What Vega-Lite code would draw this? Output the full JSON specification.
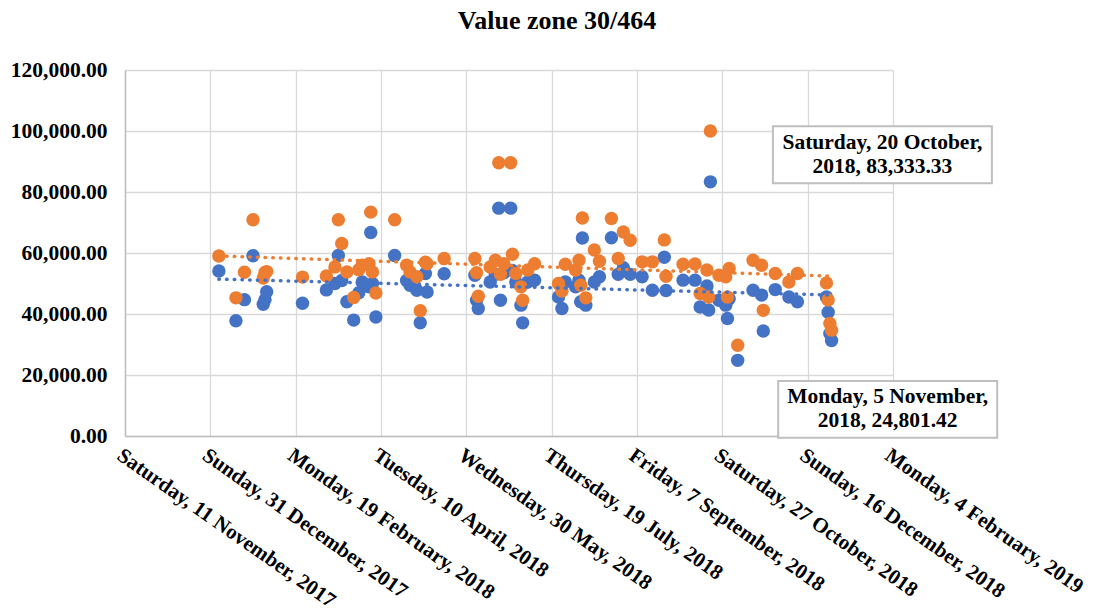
{
  "$schema": "https://vega.github.io/schema/vega-lite/v6.json",
  "width": 768,
  "height": 366,
  "autosize": {"type": "none"},
  "padding": {"left": 125, "top": 70, "right": 201, "bottom": 179},
  "background": "white",
  "title": {"text": "Value zone 30/464", "font": "Liberation Serif", "fontSize": 26, "fontWeight": "bold", "color": "#000000", "anchor": "middle", "frame": "group", "dx": 48, "offset": 25},
  "config": {
    "view": {"stroke": null},
    "axis": {"labelFont": "Liberation Serif", "labelFontSize": 21.5, "labelFontWeight": "bold", "labelColor": "#000000", "gridColor": "#D9D9D9", "gridWidth": 1.3, "domainColor": "#BFBFBF", "domainWidth": 1.5, "ticks": false, "title": null, "labelLimit": 500}
  },
  "datasets": {
    "pts": [
      {"d": "2018-01-05", "s": "Series 1", "v": 54100},
      {"d": "2018-01-15", "s": "Series 1", "v": 37800},
      {"d": "2018-01-20", "s": "Series 1", "v": 44700},
      {"d": "2018-01-25", "s": "Series 1", "v": 59100},
      {"d": "2018-01-31", "s": "Series 1", "v": 43200},
      {"d": "2018-02-01", "s": "Series 1", "v": 44700},
      {"d": "2018-02-02", "s": "Series 1", "v": 47300},
      {"d": "2018-02-23", "s": "Series 1", "v": 43500},
      {"d": "2018-03-09", "s": "Series 1", "v": 47900},
      {"d": "2018-03-14", "s": "Series 1", "v": 50000},
      {"d": "2018-03-16", "s": "Series 1", "v": 59200},
      {"d": "2018-03-18", "s": "Series 1", "v": 51000},
      {"d": "2018-03-21", "s": "Series 1", "v": 44000},
      {"d": "2018-03-25", "s": "Series 1", "v": 38000},
      {"d": "2018-03-28", "s": "Series 1", "v": 47000},
      {"d": "2018-03-30", "s": "Series 1", "v": 50500},
      {"d": "2018-04-03", "s": "Series 1", "v": 48900},
      {"d": "2018-04-04", "s": "Series 1", "v": 66700},
      {"d": "2018-04-05", "s": "Series 1", "v": 50000},
      {"d": "2018-04-07", "s": "Series 1", "v": 39000},
      {"d": "2018-04-18", "s": "Series 1", "v": 59200},
      {"d": "2018-04-25", "s": "Series 1", "v": 51000},
      {"d": "2018-04-27", "s": "Series 1", "v": 49400},
      {"d": "2018-05-01", "s": "Series 1", "v": 47800},
      {"d": "2018-05-03", "s": "Series 1", "v": 37100},
      {"d": "2018-05-06", "s": "Series 1", "v": 53300},
      {"d": "2018-05-07", "s": "Series 1", "v": 47200},
      {"d": "2018-05-17", "s": "Series 1", "v": 53200},
      {"d": "2018-06-04", "s": "Series 1", "v": 52700},
      {"d": "2018-06-05", "s": "Series 1", "v": 44500},
      {"d": "2018-06-06", "s": "Series 1", "v": 41800},
      {"d": "2018-06-13", "s": "Series 1", "v": 50500},
      {"d": "2018-06-16", "s": "Series 1", "v": 53000},
      {"d": "2018-06-18", "s": "Series 1", "v": 74700},
      {"d": "2018-06-19", "s": "Series 1", "v": 44500},
      {"d": "2018-06-21", "s": "Series 1", "v": 53500},
      {"d": "2018-06-25", "s": "Series 1", "v": 74700},
      {"d": "2018-06-26", "s": "Series 1", "v": 54300},
      {"d": "2018-06-28", "s": "Series 1", "v": 50500},
      {"d": "2018-07-01", "s": "Series 1", "v": 42900},
      {"d": "2018-07-02", "s": "Series 1", "v": 37100},
      {"d": "2018-07-05", "s": "Series 1", "v": 50500},
      {"d": "2018-07-09", "s": "Series 1", "v": 51100},
      {"d": "2018-07-23", "s": "Series 1", "v": 45600},
      {"d": "2018-07-25", "s": "Series 1", "v": 41800},
      {"d": "2018-07-27", "s": "Series 1", "v": 50500},
      {"d": "2018-08-02", "s": "Series 1", "v": 48900},
      {"d": "2018-08-04", "s": "Series 1", "v": 51100},
      {"d": "2018-08-05", "s": "Series 1", "v": 44000},
      {"d": "2018-08-06", "s": "Series 1", "v": 64900},
      {"d": "2018-08-08", "s": "Series 1", "v": 42900},
      {"d": "2018-08-13", "s": "Series 1", "v": 50500},
      {"d": "2018-08-16", "s": "Series 1", "v": 52200},
      {"d": "2018-08-23", "s": "Series 1", "v": 65000},
      {"d": "2018-08-27", "s": "Series 1", "v": 53000},
      {"d": "2018-08-30", "s": "Series 1", "v": 55200},
      {"d": "2018-09-03", "s": "Series 1", "v": 53000},
      {"d": "2018-09-10", "s": "Series 1", "v": 52200},
      {"d": "2018-09-16", "s": "Series 1", "v": 47800},
      {"d": "2018-09-23", "s": "Series 1", "v": 58600},
      {"d": "2018-09-24", "s": "Series 1", "v": 47700},
      {"d": "2018-10-04", "s": "Series 1", "v": 51100},
      {"d": "2018-10-11", "s": "Series 1", "v": 51100},
      {"d": "2018-10-14", "s": "Series 1", "v": 42300},
      {"d": "2018-10-18", "s": "Series 1", "v": 49200},
      {"d": "2018-10-19", "s": "Series 1", "v": 41300},
      {"d": "2018-10-20", "s": "Series 1", "v": 83333.33},
      {"d": "2018-10-25", "s": "Series 1", "v": 44500},
      {"d": "2018-10-29", "s": "Series 1", "v": 42900},
      {"d": "2018-10-30", "s": "Series 1", "v": 38500},
      {"d": "2018-10-31", "s": "Series 1", "v": 45000},
      {"d": "2018-11-05", "s": "Series 1", "v": 24801.42},
      {"d": "2018-11-14", "s": "Series 1", "v": 47800},
      {"d": "2018-11-19", "s": "Series 1", "v": 46200},
      {"d": "2018-11-20", "s": "Series 1", "v": 34400},
      {"d": "2018-11-27", "s": "Series 1", "v": 48000},
      {"d": "2018-12-05", "s": "Series 1", "v": 45600},
      {"d": "2018-12-10", "s": "Series 1", "v": 44000},
      {"d": "2018-12-27", "s": "Series 1", "v": 45600},
      {"d": "2018-12-28", "s": "Series 1", "v": 40600},
      {"d": "2018-12-29", "s": "Series 1", "v": 33600},
      {"d": "2018-12-30", "s": "Series 1", "v": 31300},
      {"d": "2018-01-05", "s": "Series 2", "v": 59000},
      {"d": "2018-01-15", "s": "Series 2", "v": 45300},
      {"d": "2018-01-20", "s": "Series 2", "v": 53700},
      {"d": "2018-01-25", "s": "Series 2", "v": 70900},
      {"d": "2018-01-31", "s": "Series 2", "v": 51800},
      {"d": "2018-02-01", "s": "Series 2", "v": 53600},
      {"d": "2018-02-02", "s": "Series 2", "v": 53900},
      {"d": "2018-02-23", "s": "Series 2", "v": 52100},
      {"d": "2018-03-09", "s": "Series 2", "v": 52500},
      {"d": "2018-03-14", "s": "Series 2", "v": 55400},
      {"d": "2018-03-16", "s": "Series 2", "v": 70900},
      {"d": "2018-03-18", "s": "Series 2", "v": 63100},
      {"d": "2018-03-21", "s": "Series 2", "v": 53800},
      {"d": "2018-03-25", "s": "Series 2", "v": 45400},
      {"d": "2018-03-28", "s": "Series 2", "v": 54500},
      {"d": "2018-03-30", "s": "Series 2", "v": 56000},
      {"d": "2018-04-03", "s": "Series 2", "v": 56500},
      {"d": "2018-04-04", "s": "Series 2", "v": 73400},
      {"d": "2018-04-05", "s": "Series 2", "v": 53800},
      {"d": "2018-04-07", "s": "Series 2", "v": 46900},
      {"d": "2018-04-18", "s": "Series 2", "v": 70900},
      {"d": "2018-04-25", "s": "Series 2", "v": 56000},
      {"d": "2018-04-27", "s": "Series 2", "v": 53800},
      {"d": "2018-05-01", "s": "Series 2", "v": 52200},
      {"d": "2018-05-03", "s": "Series 2", "v": 41100},
      {"d": "2018-05-06", "s": "Series 2", "v": 57000},
      {"d": "2018-05-07", "s": "Series 2", "v": 56500},
      {"d": "2018-05-17", "s": "Series 2", "v": 58200},
      {"d": "2018-06-04", "s": "Series 2", "v": 58200},
      {"d": "2018-06-05", "s": "Series 2", "v": 53500},
      {"d": "2018-06-06", "s": "Series 2", "v": 45800},
      {"d": "2018-06-13", "s": "Series 2", "v": 55400},
      {"d": "2018-06-16", "s": "Series 2", "v": 57600},
      {"d": "2018-06-18", "s": "Series 2", "v": 89600},
      {"d": "2018-06-19", "s": "Series 2", "v": 53000},
      {"d": "2018-06-21", "s": "Series 2", "v": 56500},
      {"d": "2018-06-25", "s": "Series 2", "v": 89600},
      {"d": "2018-06-26", "s": "Series 2", "v": 59600},
      {"d": "2018-06-28", "s": "Series 2", "v": 53300},
      {"d": "2018-07-01", "s": "Series 2", "v": 48900},
      {"d": "2018-07-02", "s": "Series 2", "v": 44500},
      {"d": "2018-07-05", "s": "Series 2", "v": 54400},
      {"d": "2018-07-09", "s": "Series 2", "v": 56500},
      {"d": "2018-07-23", "s": "Series 2", "v": 50000},
      {"d": "2018-07-25", "s": "Series 2", "v": 47500},
      {"d": "2018-07-27", "s": "Series 2", "v": 56300},
      {"d": "2018-08-02", "s": "Series 2", "v": 54400},
      {"d": "2018-08-04", "s": "Series 2", "v": 57600},
      {"d": "2018-08-05", "s": "Series 2", "v": 49400},
      {"d": "2018-08-06", "s": "Series 2", "v": 71500},
      {"d": "2018-08-08", "s": "Series 2", "v": 45300},
      {"d": "2018-08-13", "s": "Series 2", "v": 61000},
      {"d": "2018-08-16", "s": "Series 2", "v": 57300},
      {"d": "2018-08-23", "s": "Series 2", "v": 71300},
      {"d": "2018-08-27", "s": "Series 2", "v": 58200},
      {"d": "2018-08-30", "s": "Series 2", "v": 66900},
      {"d": "2018-09-03", "s": "Series 2", "v": 64200},
      {"d": "2018-09-10", "s": "Series 2", "v": 57100},
      {"d": "2018-09-16", "s": "Series 2", "v": 57100},
      {"d": "2018-09-23", "s": "Series 2", "v": 64300},
      {"d": "2018-09-24", "s": "Series 2", "v": 52400},
      {"d": "2018-10-04", "s": "Series 2", "v": 56300},
      {"d": "2018-10-11", "s": "Series 2", "v": 56400},
      {"d": "2018-10-14", "s": "Series 2", "v": 46700},
      {"d": "2018-10-18", "s": "Series 2", "v": 54400},
      {"d": "2018-10-19", "s": "Series 2", "v": 45600},
      {"d": "2018-10-20", "s": "Series 2", "v": 100000},
      {"d": "2018-10-25", "s": "Series 2", "v": 52700},
      {"d": "2018-10-29", "s": "Series 2", "v": 52200},
      {"d": "2018-10-30", "s": "Series 2", "v": 45600},
      {"d": "2018-10-31", "s": "Series 2", "v": 54900},
      {"d": "2018-11-05", "s": "Series 2", "v": 29760},
      {"d": "2018-11-14", "s": "Series 2", "v": 57600},
      {"d": "2018-11-19", "s": "Series 2", "v": 56000},
      {"d": "2018-11-20", "s": "Series 2", "v": 41200},
      {"d": "2018-11-27", "s": "Series 2", "v": 53300},
      {"d": "2018-12-05", "s": "Series 2", "v": 50500},
      {"d": "2018-12-10", "s": "Series 2", "v": 53300},
      {"d": "2018-12-27", "s": "Series 2", "v": 50200},
      {"d": "2018-12-28", "s": "Series 2", "v": 44600},
      {"d": "2018-12-29", "s": "Series 2", "v": 36900},
      {"d": "2018-12-30", "s": "Series 2", "v": 34700}
    ]
  },
  "encoding": {
    "x": {
      "field": "d", "type": "temporal",
      "scale": {"type": "utc", "domain": [{"year": 2017, "month": 11, "date": 11, "utc": true}, {"year": 2019, "month": 2, "date": 4, "utc": true}], "nice": false},
      "axis": {
        "values": [
          {"year": 2017, "month": 11, "date": 11, "utc": true},
          {"year": 2017, "month": 12, "date": 31, "utc": true},
          {"year": 2018, "month": 2, "date": 19, "utc": true},
          {"year": 2018, "month": 4, "date": 10, "utc": true},
          {"year": 2018, "month": 5, "date": 30, "utc": true},
          {"year": 2018, "month": 7, "date": 19, "utc": true},
          {"year": 2018, "month": 9, "date": 7, "utc": true},
          {"year": 2018, "month": 10, "date": 27, "utc": true},
          {"year": 2018, "month": 12, "date": 16, "utc": true},
          {"year": 2019, "month": 2, "date": 4, "utc": true}
        ],
        "labelExpr": "utcFormat(datum.value, '%A, %-d %B, %Y')",
        "labelFontSize": 21,
        "labelAngle": 35, "labelAlign": "left", "labelBaseline": "top",
        "labelPadding": 8, "labelFlush": false, "labelOverlap": false, "labelBound": false, "grid": true
      }
    },
    "y": {
      "field": "v", "type": "quantitative",
      "scale": {"domain": [0, 120000], "nice": false, "zero": true},
      "axis": {"values": [0, 20000, 40000, 60000, 80000, 100000, 120000], "format": ",.2f", "labelPadding": 18, "grid": true}
    }
  },
  "layer": [
    {
      "data": {"name": "pts", "format": {"parse": {"d": "date"}}},
      "mark": {"type": "circle", "size": 180, "opacity": 1},
      "encoding": {
        "color": {"field": "s", "type": "nominal", "scale": {"domain": ["Series 1", "Series 2"], "range": ["#4472C4", "#ED7D31"]}, "legend": null}
      }
    },
    {
      "data": {"name": "pts", "format": {"parse": {"d": "date"}}},
      "transform": [{"regression": "v", "on": "d", "groupby": ["s"]}],
      "mark": {"type": "line", "strokeDash": [0.5, 7.2], "strokeCap": "round", "strokeWidth": 3.5},
      "encoding": {
        "color": {"field": "s", "type": "nominal", "scale": {"domain": ["Series 1", "Series 2"], "range": ["#4472C4", "#ED7D31"]}, "legend": null}
      }
    },
    {
      "data": {"values": [{"d": "2018-10-20", "v": 83333.33, "t": "Saturday, 20 October,\n2018, 83,333.33"}], "format": {"parse": {"d": "date"}}},
      "layer": [
        {"mark": {"type": "point", "shape": "M-1,-0.26H1V0.26H-1Z", "size": 47961, "filled": true, "fill": "white", "stroke": "#BFBFBF", "strokeWidth": 2, "opacity": 1, "xOffset": 172, "yOffset": -27}},
        {"mark": {"type": "text", "font": "Liberation Serif", "fontSize": 21.5, "fontWeight": "bold", "color": "#000000", "lineBreak": "\n", "lineHeight": 24, "align": "center", "baseline": "middle", "dx": 172, "dy": -39}, "encoding": {"text": {"field": "t"}}}
      ]
    },
    {
      "data": {"values": [{"d": "2018-11-05", "v": 24801.42, "t": "Monday, 5 November,\n2018, 24,801.42"}], "format": {"parse": {"d": "date"}}},
      "layer": [
        {"mark": {"type": "point", "shape": "M-1,-0.26H1V0.26H-1Z", "size": 47961, "filled": true, "fill": "white", "stroke": "#BFBFBF", "strokeWidth": 2, "opacity": 1, "xOffset": 150, "yOffset": 49}},
        {"mark": {"type": "text", "font": "Liberation Serif", "fontSize": 21.5, "fontWeight": "bold", "color": "#000000", "lineBreak": "\n", "lineHeight": 24, "align": "center", "baseline": "middle", "dx": 150, "dy": 37}, "encoding": {"text": {"field": "t"}}}
      ]
    }
  ]
}
